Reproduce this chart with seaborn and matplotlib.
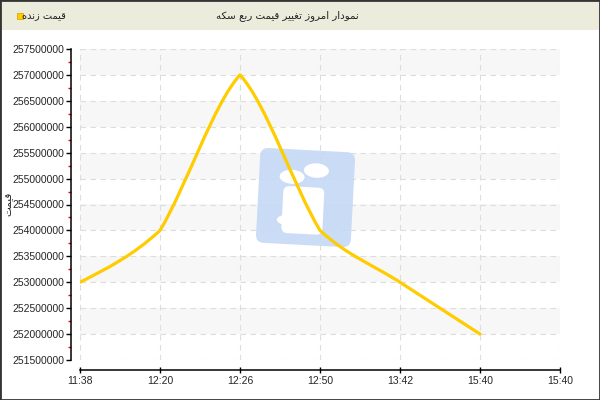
import numpy as np
import matplotlib
matplotlib.use("Agg")
import matplotlib.pyplot as plt
import seaborn as sns
from matplotlib.path import Path
from matplotlib.patches import PathPatch, Rectangle, FancyBboxPatch, Ellipse
from matplotlib.ticker import MultipleLocator
from matplotlib.transforms import Affine2D

# chart data
times = ["11:38", "12:20", "12:26", "12:50", "13:42", "15:40"]
prices = [253000000, 254000000, 257000000, 254000000, 253000000, 252000000]
xtick_labels = ["11:38", "12:20", "12:26", "12:50", "13:42", "15:40", "15:40"]
y_ticks = list(range(251500000, 257500001, 500000))

title_fa = "نمودار امروز تغییر قیمت ربع سکه"
legend_fa = "قیمت زنده"
ylabel_fa = "قیمت"

# matplotlib has no arabic shaping, so pick presentation forms by hand
FORMS = {
    'ا': (0xFE8D, 0xFE8E, None, None),
    'ب': (0xFE8F, 0xFE90, 0xFE91, 0xFE92),
    'ت': (0xFE95, 0xFE96, 0xFE97, 0xFE98),
    'د': (0xFEA9, 0xFEAA, None, None),
    'ر': (0xFEAD, 0xFEAE, None, None),
    'ز': (0xFEAF, 0xFEB0, None, None),
    'س': (0xFEB1, 0xFEB2, 0xFEB3, 0xFEB4),
    'ع': (0xFEC9, 0xFECA, 0xFECB, 0xFECC),
    'غ': (0xFECD, 0xFECE, 0xFECF, 0xFED0),
    'ق': (0xFED5, 0xFED6, 0xFED7, 0xFED8),
    'م': (0xFEE1, 0xFEE2, 0xFEE3, 0xFEE4),
    'ن': (0xFEE5, 0xFEE6, 0xFEE7, 0xFEE8),
    'ه': (0xFEE9, 0xFEEA, 0xFEEB, 0xFEEC),
    'و': (0xFEED, 0xFEEE, None, None),
    'ی': (0xFBFC, 0xFBFD, 0xFBFE, 0xFBFF),
    'ک': (0xFB8E, 0xFB8F, 0xFB90, 0xFB91),
}


def shape_fa(text):
    text = text.replace('\u064a', '\u06cc').replace('\u0643', '\u06a9')
    out = []
    for i, ch in enumerate(text):
        if ch not in FORMS:
            out.append(ch)
            continue
        prev = text[i - 1] if i > 0 else ''
        nxt = text[i + 1] if i + 1 < len(text) else ''
        jp = prev in FORMS and FORMS[prev][2] is not None
        jn = FORMS[ch][2] is not None and nxt in FORMS
        iso, fin, ini, med = FORMS[ch]
        if jp and jn:
            c = med
        elif jp:
            c = fin
        elif jn:
            c = ini
        else:
            c = iso
        out.append(chr(c))
    return ''.join(reversed(out))


def smooth_path(xs, ys, k=0.22):
    # each segment is a cubic whose end slopes lean a bit toward the
    # neighbouring segment's slope (gives the slightly kinked look)
    xs = np.asarray(xs, float)
    ys = np.asarray(ys, float)
    h = np.diff(xs)
    s = np.diff(ys) / h
    m = len(s)
    t_start = np.zeros(m)
    t_end = np.zeros(m)
    for i in range(m):
        if i > 0:
            t_start[i] = (1 - k) * s[i] + k * s[i - 1]
        if i < m - 1:
            t_end[i] = (1 - k) * s[i] + k * s[i + 1]
    t_start[0] = 1.5 * s[0] - 0.5 * t_end[0]
    t_end[-1] = 1.5 * s[-1] - 0.5 * t_start[-1]
    verts = [(xs[0], ys[0])]
    codes = [Path.MOVETO]
    for i in range(m):
        d = h[i] / 3
        verts += [(xs[i] + d, ys[i] + t_start[i] * d),
                  (xs[i + 1] - d, ys[i + 1] - t_end[i] * d),
                  (xs[i + 1], ys[i + 1])]
        codes += [Path.CURVE4] * 3
    return Path(verts, codes)


sns.set_style("white")
plt.rcParams['font.family'] = ['Liberation Sans', 'DejaVu Sans']

fig = plt.figure(figsize=(6, 4), dpi=100)
ax = fig.add_axes([80 / 600, 40 / 400, 480 / 600, 311 / 400])

# title bar and outer frame
fig.patches.append(Rectangle((0, 1 - 30 / 400), 1, 30 / 400, transform=fig.transFigure,
                             facecolor='#ececdc', edgecolor='none', zorder=0))
fig.patches.append(Rectangle((0, 0), 1, 1, transform=fig.transFigure, fill=False,
                             edgecolor='#333333', lw=2, zorder=5))
fig.text(287 / 600, 1 - 16 / 400, shape_fa(title_fa), ha='center', va='center',
         fontsize=7.4, family='DejaVu Sans', color='#222222')
fig.text(66 / 600, 1 - 16 / 400, shape_fa(legend_fa), ha='right', va='center',
         fontsize=7, family='DejaVu Sans', color='#222222')
fig.patches.append(Rectangle((17 / 600, 1 - 19 / 400), 6 / 600, 6 / 400, transform=fig.transFigure,
                             facecolor='#ffcc00', edgecolor='#e0a800', lw=0.6, zorder=3))
fig.text(8 / 600, 1 - 204 / 400, shape_fa(ylabel_fa), rotation=90, ha='center', va='center',
         fontsize=7.5, family='DejaVu Sans', color='#222222')

x_pos = list(range(len(times)))

# alternating bands
for lo in y_ticks[1::2]:
    ax.axhspan(lo, lo + 500000, color='#f7f7f7', zorder=0, lw=0)

# watermark logo
rot = Affine2D().rotate_deg_around(3.05, 2.02, -3) + fig.dpi_scale_trans
logo = [
    FancyBboxPatch((2.58, 1.55), 0.95, 0.95, boxstyle="round,pad=0,rounding_size=0.08",
                   facecolor='#c4d8f5', edgecolor='none', alpha=0.88),
    Ellipse((2.91, 2.225), 0.25, 0.14, facecolor='white', edgecolor='none'),
    Ellipse((3.15, 2.30), 0.25, 0.145, facecolor='white', edgecolor='none'),
    FancyBboxPatch((2.83, 1.66), 0.41, 0.47, boxstyle="round,pad=0,rounding_size=0.06",
                   facecolor='white', edgecolor='none'),
    Ellipse((2.88, 1.79), 0.2, 0.1, facecolor='white', edgecolor='none'),
]
for p in logo:
    p.set_transform(rot)
    p.set_zorder(0.6)
    p.set_clip_on(False)
    ax.add_artist(p)

# price line
ax.add_patch(PathPatch(smooth_path(x_pos, prices), facecolor='none', edgecolor='#ffcc00',
                       lw=2.3, capstyle='round', joinstyle='round', zorder=3))

ax.set_xlim(0, len(xtick_labels) - 1)
ax.set_ylim(y_ticks[0], y_ticks[-1])
ax.set_xticks(range(len(xtick_labels)))
ax.set_xticklabels(xtick_labels)
ax.set_yticks(y_ticks)
ax.set_yticklabels([str(v) for v in y_ticks])
ax.yaxis.set_minor_locator(MultipleLocator(250000))

ax.set_axisbelow(True)
ax.grid(True, which='major', linestyle=(0, (5, 4)), color='#dddddd', lw=0.8)
ax.set_facecolor('white')

for side in ['top', 'right']:
    ax.spines[side].set_visible(False)
ax.spines['left'].set_position(('outward', 6.5))
ax.spines['bottom'].set_position(('outward', 7.2))
for side in ['left', 'bottom']:
    ax.spines[side].set_color('black')
    ax.spines[side].set_linewidth(1.1)

ax.tick_params(axis='y', which='major', direction='out', length=3.5, width=1, color='black',
               labelsize=7.5, pad=1.5, left=True)
ax.tick_params(axis='y', which='minor', direction='out', length=2.5, width=1, color='red', left=True)
ax.tick_params(axis='x', which='major', direction='inout', length=5, width=1, color='black',
               labelsize=7.5, pad=1.5, bottom=True)

fig.savefig("out.png", dpi=100)
